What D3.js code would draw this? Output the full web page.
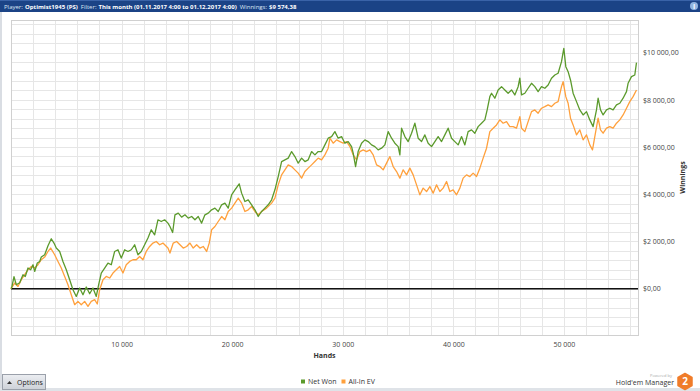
<!DOCTYPE html>
<html>
<head>
<meta charset="utf-8">
<script src="https://cdn.jsdelivr.net/npm/d3@7"></script>
<style>
  html, body { margin: 0; padding: 0; background: #fff; }
  svg { display: block; font-family: "Open Sans", "DejaVu Sans", sans-serif; }
</style>
</head>
<body>
<svg id="chart" width="700" height="391"></svg>
<script>
// hands played (x) and winnings in $ (y)
const netWonHands = [0, 90, 271, 479, 786, 1085, 1293, 1537, 1781, 1989, 2142, 2378, 2594, 2740, 3046, 3345, 3643, 3887, 4095, 4402, 4700, 5000, 5306, 5605, 5903, 6210, 6509, 6807, 7114, 7413, 7711, 7928, 8163, 8470, 8769, 9067, 9374, 9673, 9971, 10278, 10577, 10875, 11182, 11481, 11779, 12086, 12385, 12683, 12990, 13289, 13587, 13894, 14193, 14374, 14618, 14826, 15124, 15431, 15730, 16028, 16336, 16634, 16932, 17239, 17538, 17836, 18143, 18442, 18740, 19047, 19346, 19644, 19951, 20250, 20638, 20855, 21154, 21452, 21759, 22058, 22356, 22663, 22962, 23260, 23567, 23866, 24164, 24471, 24770, 25068, 25375, 25674, 25972, 26279, 26578, 26876, 27183, 27482, 27780, 28087, 28386, 28684, 28991, 29290, 29588, 29895, 30194, 30492, 30799, 30944, 31161, 31392, 31703, 32002, 32300, 32607, 32906, 33204, 33511, 33810, 34108, 34415, 34714, 35012, 35166, 35319, 35618, 35916, 36223, 36522, 36820, 37127, 37426, 37724, 38031, 38330, 38628, 38935, 39234, 39532, 39839, 40138, 40436, 40743, 41042, 41340, 41647, 41946, 42244, 42551, 42850, 43060, 43302, 43455, 43754, 44052, 44359, 44658, 44956, 45263, 45562, 45860, 46014, 46167, 46466, 46764, 47071, 47370, 47668, 47975, 48274, 48572, 48879, 49178, 49476, 49783, 49991, 50172, 50380, 50597, 50832, 51139, 51438, 51736, 52043, 52342, 52640, 52947, 53092, 53309, 53544, 53851, 54150, 54448, 54755, 55054, 55352, 55659, 55804, 56111, 56410, 56563];
const netWonValues = [0, 97, 508, 169, 254, 592, 520, 876, 804, 1015, 732, 1087, 1155, 1341, 1438, 1819, 2115, 1933, 1722, 1578, 1155, 804, 381, -42, -326, 30, -254, 72, -212, 30, -326, 169, 664, 876, 1087, 1015, 1578, 1650, 1299, 1650, 1578, 1650, 1861, 1438, 1578, 1861, 2145, 2496, 2284, 2919, 2847, 2919, 2779, 2635, 2381, 3130, 3202, 3033, 3130, 2991, 3058, 2919, 3058, 2779, 3130, 3202, 3342, 3414, 3270, 3553, 3625, 3414, 3976, 4188, 4442, 4048, 3693, 3765, 3553, 3342, 3058, 3270, 3414, 3553, 3765, 4188, 4750, 5385, 5457, 5529, 5808, 5596, 5317, 5529, 5385, 5457, 5808, 5668, 5808, 5808, 6091, 6375, 6442, 6654, 6375, 6442, 6163, 6231, 6019, 5740, 5173, 5808, 6163, 6303, 6231, 6091, 6019, 5880, 5952, 6091, 6654, 6375, 6163, 6019, 5668, 6798, 6442, 6231, 6586, 7009, 6375, 6231, 6514, 6163, 6019, 6231, 6442, 6231, 6514, 6798, 6375, 6231, 6091, 6442, 6091, 6654, 6726, 6586, 6865, 7009, 7149, 7572, 8134, 8278, 8067, 8418, 8557, 8418, 8278, 8418, 8206, 8557, 8913, 8206, 8278, 8490, 8701, 8557, 8346, 8557, 8490, 8629, 8913, 9052, 9124, 9615, 10182, 9403, 9192, 8841, 8278, 7923, 7572, 7360, 7500, 7149, 6865, 7572, 8067, 7572, 7360, 7572, 7644, 7572, 7783, 7855, 8067, 8346, 8701, 8980, 9052, 9574];

const allInEvHands = [0, 90, 334, 633, 931, 1238, 1537, 1835, 2142, 2441, 2740, 3046, 3345, 3589, 3950, 4249, 4547, 4854, 5153, 5451, 5758, 6057, 6355, 6662, 6961, 7259, 7566, 7802, 8018, 8317, 8615, 8922, 9221, 9519, 9826, 10125, 10423, 10730, 11029, 11327, 11634, 11933, 12231, 12538, 12837, 13135, 13442, 13741, 14193, 14374, 14672, 14979, 15278, 15576, 15883, 16182, 16480, 16787, 17086, 17384, 17691, 17926, 18143, 18442, 18740, 19047, 19346, 19644, 19951, 20250, 20548, 20855, 21154, 21452, 21759, 22058, 22356, 22663, 23115, 23567, 23866, 24164, 24471, 24770, 25068, 25375, 25674, 25972, 26279, 26578, 26876, 27183, 27482, 27780, 28087, 28386, 28684, 28838, 29136, 29443, 29742, 30040, 30347, 30646, 30944, 31251, 31550, 31848, 32155, 32454, 32752, 33059, 33358, 33656, 33963, 34262, 34560, 34867, 35166, 35464, 35771, 36070, 36368, 36675, 36974, 37272, 37579, 37878, 38176, 38483, 38782, 39080, 39387, 39686, 39984, 40291, 40590, 40888, 41195, 41494, 41792, 42099, 42398, 42696, 43003, 43302, 43600, 43907, 44206, 44504, 44811, 45110, 45408, 45715, 46014, 46167, 46466, 46764, 47071, 47370, 47668, 47975, 48274, 48572, 48879, 49178, 49476, 49783, 49928, 50172, 50380, 50597, 50832, 51139, 51438, 51736, 52043, 52342, 52586, 52794, 53092, 53309, 53544, 53851, 54150, 54448, 54755, 55054, 55352, 55659, 55958, 56256, 56563];
const allInEvValues = [0, 72, 241, 97, 381, 592, 804, 943, 876, 1015, 1227, 1341, 1578, 1722, 1438, 1155, 876, 520, 169, -254, -677, -537, -677, -537, -749, -537, -465, -647, -42, 381, 520, 453, 664, 804, 943, 664, 1015, 1155, 1227, 1227, 1366, 1227, 1578, 1789, 1933, 2001, 1861, 1933, 1722, 1510, 1933, 2001, 1861, 1722, 1789, 1933, 1722, 1861, 1722, 1789, 1578, 1933, 2496, 2635, 2847, 3058, 2919, 3270, 3414, 3625, 3837, 3625, 3270, 3342, 3481, 3270, 3130, 3270, 3414, 3625, 3837, 4399, 4822, 5034, 5245, 5173, 5034, 4894, 4683, 4962, 5106, 5245, 5385, 5529, 5457, 5668, 5952, 6375, 6163, 6303, 6231, 6163, 6231, 6019, 5668, 5457, 5808, 5880, 5808, 5880, 5668, 5245, 5173, 5034, 5317, 5596, 5173, 4962, 4683, 5034, 4822, 5106, 4822, 4399, 3976, 4260, 4116, 4327, 4048, 4399, 4116, 4260, 4539, 4116, 4188, 3976, 4260, 4683, 4822, 4750, 4894, 4750, 5106, 5529, 5952, 6654, 6798, 6937, 7149, 7009, 7077, 6865, 6865, 6798, 7288, 6798, 6654, 7077, 7500, 7572, 7432, 7644, 7711, 7783, 7711, 7855, 7923, 8557, 8769, 8134, 7855, 7221, 6937, 6514, 6726, 6303, 6514, 6091, 5880, 6442, 7221, 6726, 6586, 6798, 6865, 6798, 7009, 7149, 7360, 7644, 7923, 8134, 8418];

const xTickValues = [10000, 20000, 30000, 40000, 50000];
const yTickValues = [0, 2000, 4000, 6000, 8000, 10000];
const seriesNames = ['Net Won', 'All-In EV'];
const seriesColours = ['#5b9a2c', '#ffa03c'];

const svg = d3.select('#chart');
const width = 700, height = 391;
const plot = { left: 11, right: 638, top: 20, bottom: 335 };

const locale = d3.formatLocale({ decimal: ',', thousands: ' ', grouping: [3], currency: ['$', ''] });
const money = locale.format('$,.2f');
const count = locale.format(',');

const x = d3.scaleLinear().domain([0, 56700]).range([plot.left, plot.right]);
const y = d3.scaleLinear().domain([-1960, 11380]).range([plot.bottom, plot.top]);

// window chrome
svg.append('rect').attr('width', width).attr('height', height).attr('fill', '#fff');
svg.append('rect').attr('x', 0).attr('y', 12).attr('width', 2).attr('height', height - 12).attr('fill', '#d9dde3');
svg.append('rect').attr('x', 0).attr('y', 388).attr('width', width).attr('height', 3).attr('fill', '#dfe3e8');

const bar = svg.append('g');
bar.append('rect').attr('width', width).attr('height', 12).attr('fill', '#1b4386');
bar.append('rect').attr('width', width).attr('height', 1).attr('fill', '#3a63a8');

// title pieces: label (normal) / value (bold)
const titleParts = [
  ['Player:', 400], ['Optimist1945 (PS)', 700],
  ['Filter:', 400], ['This month (01.11.2017 4:00 to 01.12.2017 4:00)', 700],
  ['Winnings:', 400], ['$9 574,38', 700]
];
const titleText = bar.selectAll('.title')
  .data(titleParts)
  .enter().append('text')
  .attr('class', 'title')
  .attr('y', 9)
  .attr('fill', d => d[1] === 700 ? '#fff' : '#dde6f3')
  .style('font-size', '7px').style('font-weight', d => d[1])
  .text(d => d[0]);
// shrink the font so the whole line spans roughly 4..297 like the original
const gaps = [2, 3, 2, 3, 2, 0];
let natural = 0;
titleText.each(function() { natural += this.getComputedTextLength(); });
const titleSize = 7 * (293 - d3.sum(gaps)) / natural;
titleText.style('font-size', titleSize + 'px');
let tx = 4;
titleText.each(function(d, i) {
  d3.select(this).attr('x', tx);
  tx += this.getComputedTextLength() + gaps[i];
});
bar.append('circle').attr('cx', 694).attr('cy', 6).attr('r', 4).attr('fill', '#8fb3e0');
bar.append('text').attr('x', 694).attr('y', 8.5).attr('text-anchor', 'middle')
  .attr('fill', '#fff').style('font-size', '7px').style('font-weight', 700).text('i');

// grid
const grid = svg.append('g');
grid.selectAll('.vgrid')
  .data(d3.range(2000, 56700, 2000))
  .enter().append('line')
  .attr('x1', d => Math.round(x(d)) + 0.5).attr('x2', d => Math.round(x(d)) + 0.5)
  .attr('y1', plot.top).attr('y2', plot.bottom)
  .attr('stroke', '#e6e6e6').attr('stroke-width', 1);
grid.selectAll('.hgrid')
  .data(d3.range(-1600, 11380, 400))
  .enter().append('line')
  .attr('x1', plot.left).attr('x2', plot.right)
  .attr('y1', d => Math.round(y(d)) + 0.5).attr('y2', d => Math.round(y(d)) + 0.5)
  .attr('stroke', '#e6e6e6').attr('stroke-width', 1);
svg.append('rect')
  .attr('x', plot.left + 0.5).attr('y', plot.top + 0.5)
  .attr('width', plot.right - plot.left).attr('height', plot.bottom - plot.top)
  .attr('fill', 'none').attr('stroke', '#d0d0d0');

// axes
const xAxis = svg.append('g')
  .attr('transform', `translate(0,${plot.bottom + 4})`)
  .call(d3.axisBottom(x).tickValues(xTickValues).tickSize(0).tickFormat(count));
const yAxis = svg.append('g')
  .attr('transform', `translate(${plot.right + 2},0)`)
  .call(d3.axisRight(y).tickValues(yTickValues).tickSize(0).tickFormat(money));
[xAxis, yAxis].forEach(a => {
  a.select('.domain').remove();
  a.selectAll('text').attr('fill', '#444').style('font-size', '7px').style('font-family', '"Open Sans", sans-serif');
});

svg.append('text')
  .attr('x', (plot.left + plot.right) / 2).attr('y', 358)
  .attr('text-anchor', 'middle').attr('fill', '#333')
  .style('font-size', '7px').style('font-weight', 700).text('Hands');
svg.append('text')
  .attr('transform', `translate(685,${(plot.top + plot.bottom) / 2}) rotate(-90)`)
  .attr('text-anchor', 'middle').attr('fill', '#333')
  .style('font-size', '7px').style('font-weight', 700).text('Winnings');

// zero line
svg.append('line')
  .attr('x1', plot.left).attr('x2', plot.right)
  .attr('y1', y(0)).attr('y2', y(0))
  .attr('stroke', '#111').attr('stroke-width', 1.5);

// series
const line = d3.line().x(d => x(d[0])).y(d => y(d[1]));
const evData = d3.zip(allInEvHands, allInEvValues);
const netData = d3.zip(netWonHands, netWonValues);
svg.append('path').datum(evData).attr('d', line)
  .attr('fill', 'none').attr('stroke', seriesColours[1]).attr('stroke-width', 1.3).attr('stroke-linejoin', 'round');
svg.append('path').datum(netData).attr('d', line)
  .attr('fill', 'none').attr('stroke', seriesColours[0]).attr('stroke-width', 1.3).attr('stroke-linejoin', 'round');

// legend
const legend = svg.append('g');
let lx = 301;
seriesNames.forEach((name, i) => {
  legend.append('rect').attr('x', lx).attr('y', 379.5).attr('width', 4).attr('height', 4).attr('fill', seriesColours[i]);
  const t = legend.append('text').attr('x', lx + 7).attr('y', 384)
    .attr('fill', '#333').style('font-size', '7px').text(name);
  lx += 7 + t.node().getComputedTextLength() + 5;
});

// options button
const btn = svg.append('g');
const grad = svg.append('defs').append('linearGradient').attr('id', 'btnGrad').attr('x1', 0).attr('x2', 0).attr('y1', 0).attr('y2', 1);
grad.append('stop').attr('offset', 0).attr('stop-color', '#eceef2');
grad.append('stop').attr('offset', 1).attr('stop-color', '#cdd1d8');
btn.append('rect').attr('x', 2.5).attr('y', 374.5).attr('width', 43).attr('height', 15)
  .attr('fill', 'url(#btnGrad)').attr('stroke', '#9aa0aa');
btn.append('path').attr('d', 'M7,384 L9.5,381 L12,384 Z').attr('fill', '#333');
btn.append('text').attr('x', 17).attr('y', 385).attr('fill', '#222').style('font-size', '7px').text('Options');

// powered by logo
const logo = svg.append('g');
logo.append('text').attr('x', 672).attr('y', 377).attr('text-anchor', 'end')
  .attr('fill', '#aaa').style('font-size', '4px').text('Powered by');
logo.append('text').attr('x', 674).attr('y', 384.5).attr('text-anchor', 'end')
  .attr('fill', '#333').style('font-size', '7px').text("Hold'em Manager");
logo.append('path')
  .attr('d', 'M685,373.5 L692,377.5 L692,385.5 L685,389.5 L678,385.5 L678,377.5 Z')
  .attr('fill', '#f07c2a').attr('stroke', '#f07c2a').attr('stroke-width', 1.5).attr('stroke-linejoin', 'round');
logo.append('text').attr('x', 685).attr('y', 385).attr('text-anchor', 'middle')
  .attr('fill', '#fff').style('font-size', '10px').style('font-weight', 700).text('2');
</script>
</body>
</html>
